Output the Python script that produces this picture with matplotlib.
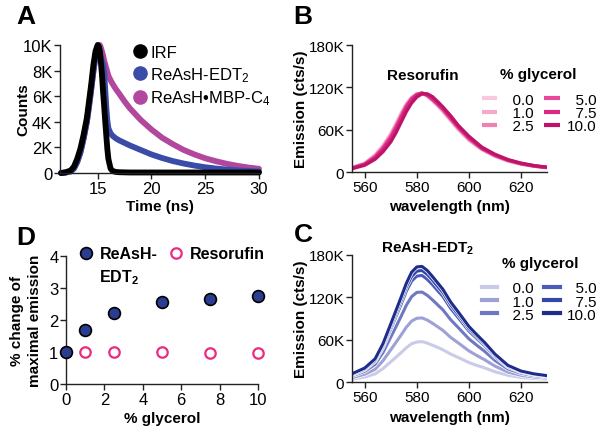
import matplotlib
matplotlib.use('Agg')
import matplotlib.pyplot as plt
import matplotlib.patheffects as pe
from matplotlib.lines import Line2D

plt.rcParams['font.family'] = ['Liberation Sans', 'DejaVu Sans']
plt.rcParams['mathtext.fontset'] = 'custom'
plt.rcParams['mathtext.rm'] = 'Liberation Sans'
plt.rcParams['mathtext.it'] = 'Liberation Sans:italic'
plt.rcParams['mathtext.bf'] = 'Liberation Sans:bold'
plt.rcParams['mathtext.default'] = 'regular'
plt.rcParams['axes.linewidth'] = 1.0

# ---------------- Panel A : fluorescence decays (counts in thousands)
time_ns = [11.6, 12.0, 12.5, 12.8, 13.1, 13.4, 13.7, 14.0, 14.2, 14.4, 14.6, 14.8,
           15.0, 15.1, 15.2, 15.3, 15.4, 15.5, 15.6, 15.7, 15.8, 15.9, 16.0,
           16.2, 16.4, 16.7, 17.0, 17.5, 18, 19, 20, 21, 22, 23, 24, 25, 26, 27, 28, 29, 30]
irf_k = [0.0, 0.05, 0.2, 0.5, 1.1, 1.9, 3.0, 4.3, 5.6, 6.9, 8.4, 9.5,
         10.0, 9.9, 9.5, 8.7, 7.7, 6.4, 5.3, 4.1, 3.0, 1.9, 1.1,
         0.35, 0.15, 0.08, 0.06, 0.05, 0.04, 0.04, 0.04, 0.04, 0.04, 0.04, 0.04, 0.04, 0.04, 0.04, 0.04, 0.04, 0.04]
edt2_k = [0.0, 0.03, 0.12, 0.35, 0.85, 1.6, 2.7, 4.0, 5.2, 6.5, 7.9, 9.1,
          9.8, 9.9, 9.6, 9.0, 8.7, 8.5, 7.9, 6.6, 5.2, 4.1, 3.5,
          3.1, 2.9, 2.7, 2.55, 2.35, 2.15, 1.8, 1.45, 1.17, 0.93, 0.74, 0.58, 0.45, 0.35, 0.27, 0.21, 0.16, 0.12]
mbp_k = [0.0, 0.03, 0.12, 0.35, 0.85, 1.6, 2.7, 4.0, 5.2, 6.5, 7.9, 9.1,
         9.8, 10.0, 10.0, 9.8, 9.5, 9.2, 8.8, 8.5, 8.2, 7.9, 7.6,
         7.25, 6.95, 6.55, 6.2, 5.6, 5.05, 4.15, 3.4, 2.75, 2.25, 1.8, 1.45, 1.15, 0.92, 0.72, 0.56, 0.43, 0.33]
a_labels = ['IRF', 'ReAsH-EDT$_2$', 'ReAsH\u2022MBP-C$_4$']
a_colors = ['#000000', '#3a4ca8', '#b2479e']
a_xticks = [15, 20, 25, 30]
a_yticks = [0, 2, 4, 6, 8, 10]
a_yticklabels = ['0', '2K', '4K', '6K', '8K', '10K']

# ---------------- Panel B : resorufin emission (K cts/s)
wl_b = [555, 560, 564, 567, 570, 572, 574, 576, 578, 580, 582, 584, 586, 588, 590,
        593, 596, 600, 605, 610, 615, 620, 625, 630]
res_00 = [6.5, 13, 25, 38, 55, 69, 84, 97, 106, 111, 111.5, 107.5, 101, 94, 86, 73, 60, 45, 32, 22.5, 16, 11.5, 8.5, 6.5]
res_10 = [6.3, 12.5, 24, 37, 53.5, 67.5, 82.5, 96, 105.5, 111, 112, 108, 102, 95, 87, 74, 61, 46, 32.5, 23, 16.3, 11.8, 8.7, 6.6]
res_25 = [6.1, 12, 23, 35.5, 52, 66, 81, 95, 105, 110.5, 112, 108.5, 102.5, 95.5, 88, 75, 62, 47, 33, 23.5, 16.6, 12, 8.8, 6.7]
res_50 = [5.9, 11.6, 22, 34, 50, 64, 79, 93.5, 104, 110, 112, 109, 103, 96.5, 89, 76, 63, 48, 33.5, 24, 17, 12.2, 9, 6.8]
res_75 = [5.7, 11.2, 21, 33, 48.5, 62, 77, 92, 103, 109.5, 112, 109.5, 104, 97, 90, 77, 64, 49, 34, 24.5, 17.3, 12.4, 9.1, 6.9]
res_100 = [5, 10, 18.5, 29, 43, 56, 71, 86, 98, 106.5, 111, 111, 107, 100, 92.5, 80, 66, 51, 35.5, 25.5, 18, 13, 9.5, 7.2]
res_series = [res_00, res_10, res_25, res_50, res_75, res_100]
res_colors = ['#f8c9dd', '#f4a9c9', '#ef82b0', '#e8489a', '#db2a86', '#bd1469']

# ---------------- Panel C : ReAsH-EDT2 emission (K cts/s)
wl_c = [555, 560, 564, 567, 570, 572, 574, 576, 578, 580, 582, 584, 586, 588, 590,
        593, 596, 600, 603, 606, 610, 615, 620, 625, 630]
edt_00 = [4, 7, 11.5, 19, 28.5, 35, 41.5, 48.5, 54, 56.5, 57, 55, 52, 49, 45.5, 39.5, 34.5, 27.5, 23.5, 20, 14.5, 9.5, 6.5, 5, 4]
edt_10 = [6, 11, 18, 30, 45.5, 56, 66.5, 77.5, 86, 90, 90.5, 87.5, 83, 78, 73, 63, 55, 44, 37.5, 31.5, 22.5, 14, 9.5, 7, 5.5]
edt_25 = [8.5, 15, 25, 41.5, 63.5, 78, 93, 108.5, 120.5, 126.5, 127, 122.5, 116, 109, 102, 88, 76.5, 61, 52, 43.5, 30.5, 18.5, 12.3, 9, 7]
edt_50 = [10, 17.5, 29.5, 49, 75, 92.5, 110, 128.5, 142.5, 149.5, 150.5, 145, 137.5, 129, 121, 104, 90.5, 72, 61.5, 51.5, 36, 21.5, 14.3, 10.5, 8.2]
edt_75 = [10.5, 18.5, 31, 51.5, 78.5, 97, 115.5, 134.5, 149, 156.5, 157.5, 152, 144, 135, 126.5, 109, 95, 75.5, 64.5, 54, 38, 22.5, 15, 11, 8.6]
edt_100 = [11.5, 19.7, 32.8, 54, 82, 101, 120, 139.5, 155, 162.5, 163.2, 157.5, 149, 140, 131, 113, 98.5, 78.5, 67, 56, 39.5, 23.5, 15.5, 11.5, 9]
edt_series = [edt_00, edt_10, edt_25, edt_50, edt_75, edt_100]
edt_colors = ['#cacbe8', '#9ea1d5', '#6f79c3', '#4a5cb9', '#3347a9', '#1e2d8c']

glycerol_labels = ['\u20070.0', '\u20071.0', '\u20072.5', '\u20075.0', '\u20077.5', '10.0']
em_yticks = [0, 60, 120, 180]
em_yticklabels = ['0', '60K', '120K', '180K']
wl_xticks = [560, 580, 600, 620]

# ---------------- Panel D : relative maximal emission
glycerol_pct = [0, 1, 2.5, 5, 7.5, 10]
reash_ratio = [1.0, 1.70, 2.22, 2.57, 2.66, 2.74]
reash_err = [0.03, 0.05, 0.12, 0.08, 0.05, 0.04]
resorufin_ratio = [1.0, 1.0, 1.0, 0.99, 0.98, 0.98]
d_xticks = [0, 2, 4, 6, 8, 10]
d_yticks = [0, 1, 2, 3, 4]

LAB = 11


def style(ax, size):
    for s in ['top', 'right']:
        ax.spines[s].set_visible(False)
    for s in ['left', 'bottom']:
        ax.spines[s].set_linewidth(1.0)
        ax.spines[s].set_color('#222222')
    ax.tick_params(direction='out', length=4, width=1.0, labelsize=size, pad=1.5, color='#222222')


fig = plt.figure(figsize=(6.04, 4.35), dpi=100)

# ---------- A
axA = fig.add_axes([0.0993, 0.600, 0.3295, 0.2943])
for y, c in zip([mbp_k, edt2_k, irf_k], [a_colors[2], a_colors[1], a_colors[0]]):
    axA.plot(time_ns, y, '-', color=c, lw=4.2, solid_capstyle='round',
             solid_joinstyle='round', clip_on=False)
axA.set_xlim(11.5, 30)
axA.set_ylim(0, 10)
axA.set_xticks(a_xticks)
axA.set_yticks(a_yticks)
axA.set_yticklabels(a_yticklabels)
style(axA, 12)
axA.set_xlabel('Time (ns)', fontsize=LAB, weight='bold')
axA.set_ylabel('Counts', fontsize=LAB, weight='bold')
axA.xaxis.set_label_coords(0.5, -0.2)
axA.yaxis.set_label_coords(-0.15, 0.5)
hA = [Line2D([], [], marker='o', ls='none', ms=9.5, color=c) for c in a_colors]
axA.legend(hA, a_labels, loc='upper left', bbox_to_anchor=(0.37, 1.0), frameon=False,
           fontsize=12, handlelength=0.75, handletextpad=0.25, labelspacing=0.3,
           borderpad=0, borderaxespad=0)

# ---------- B
axB = fig.add_axes([0.5823, 0.6016, 0.3233, 0.2926])
for y, c, lab in zip(res_series, res_colors, glycerol_labels):
    axB.plot(wl_b, y, color=c, lw=2.4, label=lab, solid_capstyle='butt')
axB.set_xlim(555, 630)
axB.set_ylim(0, 180)
axB.set_xticks(wl_xticks)
axB.set_yticks(em_yticks)
axB.set_yticklabels(em_yticklabels)
style(axB, 11)
axB.set_xlabel('wavelength (nm)', fontsize=LAB, weight='bold')
axB.set_ylabel('Emission (cts/s)', fontsize=LAB, weight='bold')
axB.xaxis.set_label_coords(0.5, -0.21)
axB.yaxis.set_label_coords(-0.225, 0.5)
axB.text(0.366, 0.764, 'Resorufin', transform=axB.transAxes, ha='center', va='center',
         fontsize=LAB, weight='bold')
axB.text(0.956, 0.772, '% glycerol', transform=axB.transAxes, ha='center', va='center',
         fontsize=LAB, weight='bold')
legB = axB.legend(loc='upper left', bbox_to_anchor=(0.667, 0.625), ncol=2, frameon=False,
                  fontsize=11, handlelength=1.0, handletextpad=0.45, labelspacing=-0.05,
                  columnspacing=0.7, borderpad=0, borderaxespad=0)
for l in legB.get_lines():
    l.set_linewidth(3.0)

# ---------- C
axC = fig.add_axes([0.5823, 0.1195, 0.3233, 0.2931])
for y, c, lab in zip(edt_series, edt_colors, glycerol_labels):
    axC.plot(wl_c, y, color=c, lw=2.2, label=lab,
             path_effects=[pe.Stroke(linewidth=3.2, foreground='white'), pe.Normal()])
axC.set_xlim(555, 630)
axC.set_ylim(0, 180)
axC.set_xticks(wl_xticks)
axC.set_yticks(em_yticks)
axC.set_yticklabels(em_yticklabels)
style(axC, 11)
axC.set_xlabel('wavelength (nm)', fontsize=LAB, weight='bold')
axC.set_ylabel('Emission (cts/s)', fontsize=LAB, weight='bold')
axC.xaxis.set_label_coords(0.5, -0.22)
axC.yaxis.set_label_coords(-0.225, 0.5)
axC.text(0.39, 1.05, 'ReAsH-EDT$_2$', transform=axC.transAxes, ha='center', va='center',
         fontsize=LAB, weight='bold')
axC.text(0.965, 0.933, '% glycerol', transform=axC.transAxes, ha='center', va='center',
         fontsize=LAB, weight='bold')
legC = axC.legend(loc='upper left', bbox_to_anchor=(0.667, 0.79), ncol=2, frameon=False,
                  fontsize=11, handlelength=1.0, handletextpad=0.45, labelspacing=-0.05,
                  columnspacing=0.7, borderpad=0, borderaxespad=0)
for l in legC.get_lines():
    l.set_linewidth(3.0)
    l.set_path_effects([])

# ---------- D
axD = fig.add_axes([0.1093, 0.1149, 0.3179, 0.2943])
axD.plot(glycerol_pct, resorufin_ratio, 'o', ms=7.5, mfc='white', mec='#ec2a7f', mew=1.6,
         clip_on=False, zorder=3)
axD.errorbar(glycerol_pct, reash_ratio, yerr=reash_err, fmt='none', ecolor='black',
             elinewidth=1.2, capsize=0, zorder=4, clip_on=False)
axD.plot(glycerol_pct, reash_ratio, 'o', ms=8.5, mfc='#2b3d91', mec='black', mew=1.2,
         clip_on=False, zorder=5)
axD.set_xlim(0, 10)
axD.set_ylim(0, 4)
axD.set_xticks(d_xticks)
axD.set_yticks(d_yticks)
style(axD, 12)
axD.set_xlabel('% glycerol', fontsize=LAB, weight='bold')
axD.set_ylabel('% change of\nmaximal emission', fontsize=LAB, weight='bold', linespacing=1.35)
axD.xaxis.set_label_coords(0.5, -0.21)
axD.yaxis.set_label_coords(-0.125, 0.5)
hD = [Line2D([], [], marker='o', ls='none', ms=8.5, mfc='#2b3d91', mec='black', mew=1.2),
      Line2D([], [], marker='o', ls='none', ms=7.5, mfc='white', mec='#ec2a7f', mew=1.6)]
legD = axD.legend(hD, ['ReAsH-', 'Resorufin'], loc='upper left', bbox_to_anchor=(0.07, 1.075),
                  ncol=2, frameon=False, prop={'weight': 'bold', 'size': 11.5},
                  handlelength=0.8, handletextpad=0.45, columnspacing=0.8,
                  borderpad=0, borderaxespad=0)

# panel letters
for x, y, s in [(0.027, 0.962, 'A'), (0.486, 0.962, 'B'), (0.027, 0.453, 'D'), (0.486, 0.46, 'C')]:
    fig.text(x, y, s, fontsize=19, weight='bold', va='center', ha='left')

fig.canvas.draw()
r = fig.canvas.get_renderer()
bb = legD.get_texts()[0].get_window_extent(r)
W, H = fig.bbox.width, fig.bbox.height
fig.text(bb.x0 / W, (bb.y0 - 6) / H, 'EDT$_2$', fontsize=11.5, weight='bold', ha='left', va='top')

fig.savefig('out.png', dpi=100)
